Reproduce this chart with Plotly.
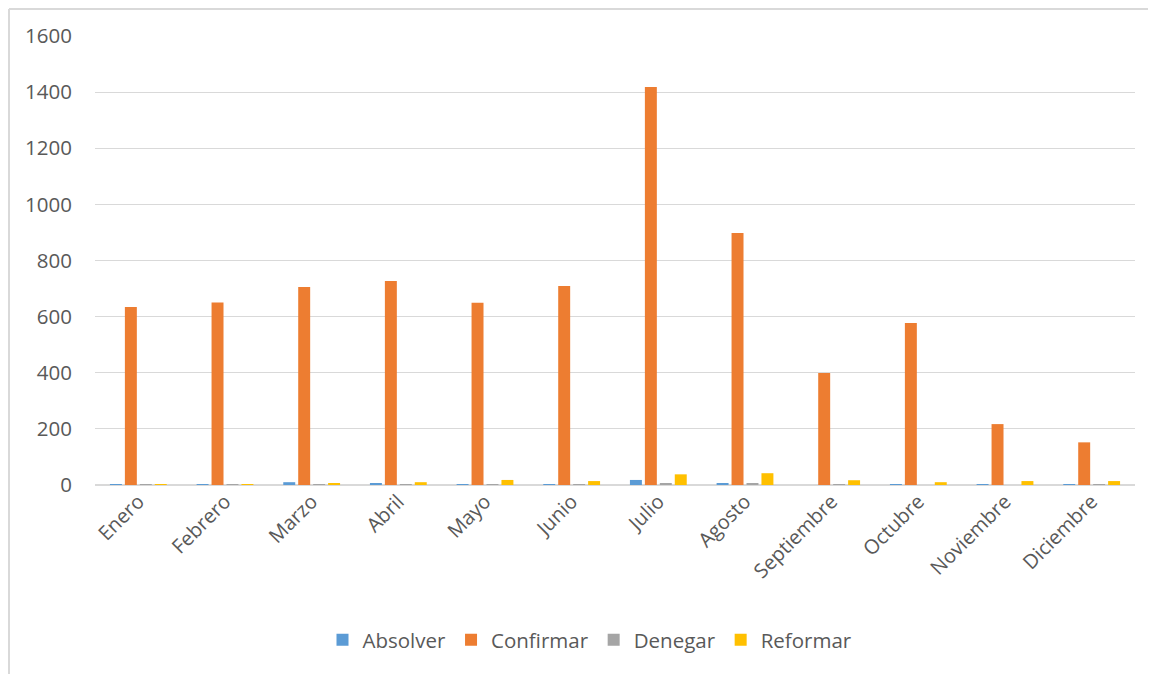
import plotly.graph_objects as go

months = ["Enero", "Febrero", "Marzo", "Abril", "Mayo", "Junio", "Julio",
          "Agosto", "Septiembre", "Octubre", "Noviembre", "Diciembre"]
absolver = [3, 1, 10, 6, 3, 3, 18, 7, 0, 3, 1, 1]
confirmar = [634, 650, 706, 727, 649, 709, 1418, 898, 399, 577, 217, 152]
denegar = [3, 3, 1, 1, 1, 3, 6, 7, 1, 0, 0, 2]
reformar = [2, 2, 7, 10, 18, 14, 38, 42, 17, 10, 14, 14]

series = [("Absolver", absolver, "#5b9bd5"),
          ("Confirmar", confirmar, "#ed7d31"),
          ("Denegar", denegar, "#a5a5a5"),
          ("Reformar", reformar, "#ffc000")]

fig = go.Figure()
for name, vals, col in series:
    fig.add_trace(go.Bar(name=name, x=months, y=vals, marker_color=col,
                         marker_line_width=0))

OFF = 8  # page body margin
W, H = 1156 - OFF, 674 - OFF
L, T = 95 - OFF, 36 - OFF
R = W - (1135 - OFF)
B = H - (485 - OFF)
pw, ph = W - L - R, H - T - B

def px_x(x):
    return (x - OFF - L) / pw

def px_y(y):
    return (H - B - (y - OFF)) / ph

fig.update_layout(
    width=W, height=H,
    margin=dict(l=L, r=R, t=T, b=B),
    paper_bgcolor="white", plot_bgcolor="white",
    barmode="group", bargap=0.31, bargroupgap=0.2,
    font=dict(family="Open Sans, Liberation Sans, sans-serif", size=20, color="#595959"),
    showlegend=True,
    legend=dict(orientation="h", x=px_x(590), xanchor="center", y=px_y(640), yanchor="middle",
                font=dict(size=20.5, color="#595959"), traceorder="normal",
                itemwidth=30),
    xaxis=dict(tickangle=-45, showgrid=False, showline=False, ticks="",
               tickfont=dict(size=20, color="#595959")),
    yaxis=dict(range=[0, 1600], dtick=200, showgrid=True, gridcolor="#d9d9d9",
               gridwidth=1, zeroline=True, zerolinecolor="#d9d9d9", zerolinewidth=2,
               ticks="", tickfont=dict(size=20.5, color="#595959"), ticklabelstandoff=22),
    shapes=[
        dict(type="line", xref="paper", yref="paper",
             x0=px_x(9), x1=px_x(9), y0=px_y(9), y1=px_y(674), line=dict(color="#d9d9d9", width=2)),
        dict(type="line", xref="paper", yref="paper",
             x0=px_x(9), x1=px_x(1156), y0=px_y(9), y1=px_y(9), line=dict(color="#d9d9d9", width=2)),
    ],
)

fig.write_html("out.html")
